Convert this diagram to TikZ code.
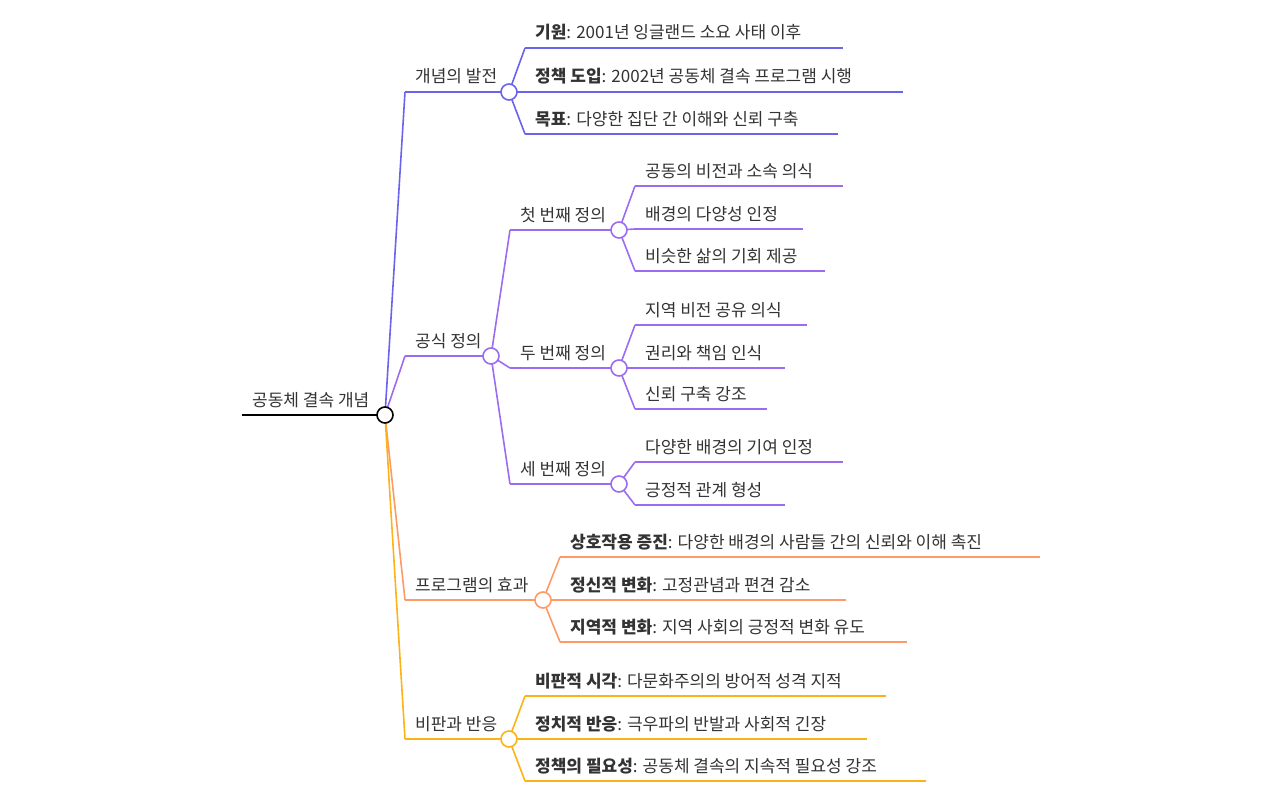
\documentclass[tikz,border=0pt]{standalone}
\usepackage{fontspec}
\setmainfont{Noto Sans CJK KR}
\definecolor{cA}{HTML}{6A63EE}
\definecolor{cB}{HTML}{9B6BF0}
\definecolor{cC}{HTML}{FF9966}
\definecolor{cD}{HTML}{FBB317}
\definecolor{tx}{HTML}{333333}
\newcommand{\lbl}[6]{% name, color, x0, y, xend, text
  \draw[#2,line width=1.6pt] (#3,#4) coordinate (#1s) -- (#5,#4) coordinate (#1e);
  \begin{scope}\clip (#3,#4-32) rectangle (#5-2,#4-1);
  \node[anchor=base west,inner sep=0pt,text=tx] (#1) at (#3+10,#4-9) {#6};
  \end{scope}}
\newcommand{\crv}[3]{\draw[#1,line width=1.6pt] (#2) .. controls ($(#2)!0.5!(#3)$ |- #2) and ($(#2)!0.5!(#3)$ |- #3) .. (#3);}
\tikzset{knob/.style={circle,draw=#1,fill=white,line width=1.6pt,minimum size=16pt,inner sep=0pt}}
\usetikzlibrary{calc}
\begin{document}
\begin{tikzpicture}[x=1pt,y=-1pt,font=\fontsize{17}{20}\selectfont]
\useasboundingbox (0,0) rectangle (1280,800);
% root
\lbl{r}{black}{242}{415}{385}{공동체 결속 개념}
% level 1
\lbl{a}{cA}{405}{92}{509}{개념의 발전}
\lbl{b}{cB}{405}{356}{491}{공식 정의}
\lbl{c}{cC}{405}{600}{543}{프로그램의 효과}
\lbl{d}{cD}{405}{739}{509}{비판과 반응}
\crv{cA}{re}{as}\crv{cB}{re}{bs}\crv{cC}{re}{cs}\crv{cD}{re}{ds}
% a children
\lbl{a1}{cA}{525}{48}{843}{\textbf{기원}: 2001년 잉글랜드 소요 사태 이후}
\lbl{a2}{cA}{525}{92}{903}{\textbf{정책 도입}: 2002년 공동체 결속 프로그램 시행}
\lbl{a3}{cA}{525}{134}{838}{\textbf{목표}: 다양한 집단 간 이해와 신뢰 구축}
\crv{cA}{ae}{a1s}\crv{cA}{ae}{a2s}\crv{cA}{ae}{a3s}
% b children
\lbl{b1}{cB}{510}{230}{619}{첫 번째 정의}
\lbl{b2}{cB}{510}{368}{619}{두 번째 정의}
\lbl{b3}{cB}{510}{484}{619}{세 번째 정의}
\crv{cB}{be}{b1s}\crv{cB}{be}{b2s}\crv{cB}{be}{b3s}
\lbl{b11}{cB}{635}{186}{843}{공동의 비전과 소속 의식}
\lbl{b12}{cB}{635}{229}{803}{배경의 다양성 인정}
\lbl{b13}{cB}{635}{271}{825}{비슷한 삶의 기회 제공}
\lbl{b21}{cB}{635}{325}{807}{지역 비전 공유 의식}
\lbl{b22}{cB}{635}{368}{785}{권리와 책임 인식}
\lbl{b23}{cB}{635}{409}{767}{신뢰 구축 강조}
\lbl{b31}{cB}{635}{462}{843}{다양한 배경의 기여 인정}
\lbl{b32}{cB}{635}{505}{785}{긍정적 관계 형성}
\crv{cB}{b1e}{b11s}\crv{cB}{b1e}{b12s}\crv{cB}{b1e}{b13s}
\crv{cB}{b2e}{b21s}\crv{cB}{b2e}{b22s}\crv{cB}{b2e}{b23s}
\crv{cB}{b3e}{b31s}\crv{cB}{b3e}{b32s}
% c children
\lbl{c1}{cC}{560}{557}{1040}{\textbf{상호작용 증진}: 다양한 배경의 사람들 간의 신뢰와 이해 촉진}
\lbl{c2}{cC}{560}{600}{846}{\textbf{정신적 변화}: 고정관념과 편견 감소}
\lbl{c3}{cC}{560}{642}{907}{\textbf{지역적 변화}: 지역 사회의 긍정적 변화 유도}
\crv{cC}{ce}{c1s}\crv{cC}{ce}{c2s}\crv{cC}{ce}{c3s}
% d children
\lbl{d1}{cD}{525}{696}{886}{\textbf{비판적 시각}: 다문화주의의 방어적 성격 지적}
\lbl{d2}{cD}{525}{739}{867}{\textbf{정치적 반응}: 극우파의 반발과 사회적 긴장}
\lbl{d3}{cD}{525}{781}{926}{\textbf{정책의 필요성}: 공동체 결속의 지속적 필요성 강조}
\crv{cD}{de}{d1s}\crv{cD}{de}{d2s}\crv{cD}{de}{d3s}
% knobs
\node[knob=black] (kr) at (re) {};
\node[knob=cA] (ka) at (ae) {};
\node[knob=cB] (kb) at (be) {};
\node[knob=cC] (kc) at (ce) {};
\node[knob=cD] (kd) at (de) {};
\node[knob=cB] (kb1) at (b1e) {};
\node[knob=cB] (kb2) at (b2e) {};
\node[knob=cB] (kb3) at (b3e) {};
\end{tikzpicture}
\end{document}
